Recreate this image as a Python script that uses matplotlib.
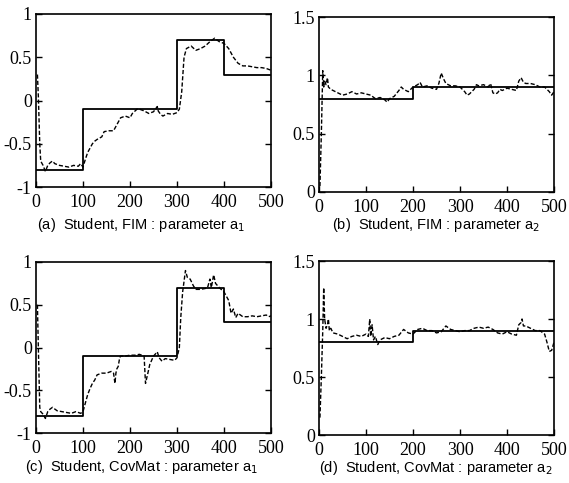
import numpy as np
import matplotlib
matplotlib.use('Agg')
import matplotlib.pyplot as plt

plt.rcParams['font.family'] = ['Liberation Serif', 'DejaVu Serif']

# true parameter steps
a1_step_x = [0, 100, 300, 400, 500]
a1_step_y = [-0.8, -0.1, 0.7, 0.3, 0.3]
a2_step_x = [0, 200, 500]
a2_step_y = [0.8, 0.9, 0.9]

# (a) Student, FIM : a1 estimate
a_x = [3, 5, 8, 10, 15, 20, 25, 30, 35, 40, 50, 60, 70, 80, 90, 95, 100, 105, 110, 115, 120,
       125, 130, 140, 145, 155, 165, 170, 180, 190, 200, 205, 215, 220, 230, 240, 250, 258, 260,
       265, 270, 280, 290, 300, 305, 310, 315, 320, 330, 340, 350, 360, 370, 380, 390, 400,
       410, 420, 430, 440, 450, 460, 470, 480, 490, 500]
a_y = [0.3, 0.05, -0.5, -0.7, -0.75, -0.82, -0.75, -0.72, -0.7, -0.73, -0.75, -0.76, -0.77,
       -0.75, -0.76, -0.73, -0.77, -0.68, -0.6, -0.55, -0.5, -0.47, -0.45, -0.42, -0.36, -0.35,
       -0.35, -0.3, -0.2, -0.18, -0.2, -0.15, -0.1, -0.1, -0.12, -0.15, -0.13, -0.07, -0.12,
       -0.16, -0.18, -0.15, -0.16, -0.14, -0.1, 0.1, 0.5, 0.6, 0.63, 0.58, 0.6, 0.63, 0.68, 0.72,
       0.68, 0.66, 0.6, 0.5, 0.43, 0.4, 0.4, 0.39, 0.38, 0.38, 0.37, 0.35]

# (b) Student, FIM : a2 estimate
b_x = [2, 5, 8, 10, 12, 15, 18, 20, 25, 30, 40, 50, 60, 70, 80, 90, 100, 110, 120, 130, 140,
       145, 150, 160, 170, 175, 180, 190, 195, 200, 210, 215, 220, 230, 240, 250, 255, 260, 265,
       270, 280, 290, 300, 310, 315, 320, 330, 335, 340, 350, 360, 365, 370, 375, 380, 385, 390,
       400, 410, 420, 425, 430, 435, 440, 450, 460, 470, 480, 490, 495, 500]
b_y = [0.05, 0.5, 1.04, 0.9, 0.95, 0.92, 0.98, 0.9, 0.88, 0.87, 0.85, 0.83, 0.84, 0.86, 0.84,
       0.85, 0.84, 0.83, 0.8, 0.81, 0.79, 0.77, 0.8, 0.82, 0.87, 0.9, 0.88, 0.86, 0.88, 0.9,
       0.92, 0.94, 0.9, 0.91, 0.89, 0.88, 0.93, 1.02, 0.97, 0.93, 0.91, 0.91, 0.9, 0.86, 0.83,
       0.84, 0.88, 0.92, 0.91, 0.92, 0.9, 0.93, 0.85, 0.84, 0.85, 0.88, 0.87, 0.89, 0.88, 0.87,
       0.95, 0.98, 0.94, 0.93, 0.93, 0.92, 0.9, 0.9, 0.86, 0.83, 0.86]

# (c) Student, CovMat : a1 estimate
c_x = [3, 5, 8, 10, 15, 20, 25, 30, 35, 45, 55, 65, 75, 85, 95, 100, 105, 110, 115, 120, 125,
       130, 140, 150, 160, 165, 168, 170, 172, 175, 178, 180, 190, 200, 210, 220, 230, 233, 238,
       242, 250, 255, 258, 262, 268, 275, 285, 295, 300, 305, 308, 312, 318, 322, 328, 335, 340,
       350, 360, 365, 370, 373, 378, 382, 390, 400, 405, 410, 415, 420, 425, 430, 440, 450, 460,
       470, 480, 490, 495, 500]
c_y = [0.5, 0.0, -0.7, -0.75, -0.78, -0.83, -0.75, -0.72, -0.7, -0.74, -0.75, -0.76, -0.77,
       -0.75, -0.77, -0.75, -0.65, -0.55, -0.48, -0.42, -0.38, -0.32, -0.3, -0.3, -0.28, -0.3,
       -0.42, -0.3, -0.25, -0.22, -0.12, -0.1, -0.1, -0.09, -0.09, -0.08, -0.1, -0.42, -0.3,
       -0.2, -0.1, -0.07, -0.05, -0.12, -0.16, -0.13, -0.14, -0.15, -0.12, 0.0, 0.35, 0.65, 0.9,
       0.82, 0.8, 0.72, 0.68, 0.68, 0.69, 0.7, 0.8, 0.7, 0.85, 0.75, 0.7, 0.65, 0.6, 0.55, 0.4,
       0.45, 0.35, 0.4, 0.36, 0.36, 0.37, 0.36, 0.37, 0.38, 0.36, 0.37]

# (d) Student, CovMat : a2 estimate
d_x = [2, 5, 8, 10, 12, 15, 18, 20, 22, 25, 30, 40, 50, 60, 70, 80, 90, 100, 105, 108, 110,
       113, 116, 120, 125, 130, 140, 150, 160, 170, 180, 190, 200, 210, 220, 230, 240, 250, 260,
       270, 280, 290, 300, 310, 320, 330, 340, 350, 360, 370, 380, 390, 400, 410, 420, 425, 430,
       432, 435, 440, 450, 460, 470, 480, 485, 490, 495, 500]
d_y = [0.15, 0.5, 0.9, 1.27, 1.0, 0.92, 0.95, 1.0, 0.9, 0.92, 0.88, 0.87, 0.85, 0.83, 0.85,
       0.86, 0.85, 0.87, 0.85, 1.0, 0.85, 0.95, 0.82, 0.85, 0.78, 0.82, 0.84, 0.83, 0.85, 0.86,
       0.91, 0.88, 0.87, 0.91, 0.92, 0.9, 0.9, 0.88, 0.89, 0.94, 0.91, 0.9, 0.89, 0.9, 0.9, 0.92,
       0.93, 0.92, 0.93, 0.91, 0.88, 0.87, 0.89, 0.87, 0.86, 0.95, 0.97, 1.0, 0.94, 0.94, 0.92,
       0.9, 0.9, 0.87, 0.8, 0.72, 0.73, 0.8]

W, H = 569, 483
fig = plt.figure(figsize=(W / 100, H / 100), dpi=100)


def box(l, t, r, b):
    return [l / W, 1 - b / H, (r - l) / W, (b - t) / H]


ax1 = fig.add_axes(box(36, 14, 271, 187))
ax2 = fig.add_axes(box(319, 17, 554, 192))
ax3 = fig.add_axes(box(36, 262, 271, 433))
ax4 = fig.add_axes(box(319, 261, 554, 435))

panels = [
    (ax1, a1_step_x, a1_step_y, a_x, a_y, (-1, 1), [-1, -0.5, 0, 0.5, 1]),
    (ax2, a2_step_x, a2_step_y, b_x, b_y, (0, 1.5), [0, 0.5, 1, 1.5]),
    (ax3, a1_step_x, a1_step_y, c_x, c_y, (-1, 1), [-1, -0.5, 0, 0.5, 1]),
    (ax4, a2_step_x, a2_step_y, d_x, d_y, (0, 1.5), [0, 0.5, 1, 1.5]),
]

for ax, sx, sy, ex, ey, ylim, yt in panels:
    ax.step(sx, sy, where='post', color='black', lw=1.3)
    ax.plot(ex, ey, color='black', lw=1.0, ls=(0, (3, 1.5)))
    ax.set_xlim(0, 500)
    ax.set_ylim(*ylim)
    ax.set_xticks([0, 100, 200, 300, 400, 500])
    ax.set_yticks(yt)
    ax.set_yticklabels([('%g' % v) for v in yt])
    ax.tick_params(direction='in', right=True, top=False, length=4, width=1,
                   labelsize=13, pad=3)
    ax.tick_params(axis='x', pad=5)
    for lab in ax.get_xticklabels() + ax.get_yticklabels():
        lab.set_fontfamily('Liberation Serif')
    for s in ax.spines.values():
        s.set_linewidth(1.2)

cap = dict(family='Liberation Sans', fontsize=10.5, ha='center', va='center')
fig.text(141 / W, 1 - 225 / H, '(a)  Student, FIM : parameter a$_1$', **cap)
fig.text(436 / W, 1 - 225 / H, '(b)  Student, FIM : parameter a$_2$', **cap)
fig.text(141 / W, 1 - 467 / H, '(c)  Student, CovMat : parameter a$_1$', **cap)
fig.text(436 / W, 1 - 468 / H, '(d)  Student, CovMat : parameter a$_2$', **cap)

fig.savefig('out.png', dpi=100)
